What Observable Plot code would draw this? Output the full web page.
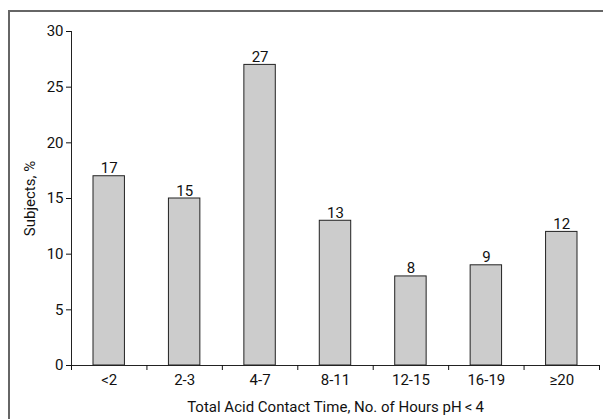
<!DOCTYPE html>
<html><head>
<meta charset="utf-8">
<script src="https://cdn.jsdelivr.net/npm/d3@7"></script>
<script src="https://cdn.jsdelivr.net/npm/@observablehq/plot@0.6"></script>
<style>
body{margin:0;background:#fff;}
#wrap{position:relative;width:603px;height:419px;overflow:hidden;}
#frame{position:absolute;left:8px;top:10px;width:700px;height:500px;border-left:2px solid #666;border-top:2px solid #666;}
#chart{position:absolute;left:0;top:0;}
#chart text{fill:#111;}
</style></head><body><div id="wrap"><div id="frame"></div><div id="chart"></div></div>
<script>
const categories = ["<2","2-3","4-7","8-11","12-15","16-19","≥20"];
const values = [17,15,27,13,8,9,12];
const yTicks = [0,5,10,15,20,25,30];
const xLabel = "Total Acid Contact Time, No. of Hours pH\u2009<\u20094";
const yLabel = "Subjects, %";
const data = categories.map((c,i)=>({c, i, v: values[i]}));
const plot = Plot.plot({
 width:603, height:419, marginLeft:71, marginRight:4, marginTop:31, marginBottom:54,
 style:{fontFamily:"Roboto, sans-serif", fontSize:"15px", color:"#111", background:"transparent"},
 x:{domain:[0,7]}, y:{domain:[0,30]},
 marks:[
  Plot.rectY(data,{x1:"i", x2: d=>d.i+1, y:"v", insetLeft:22, insetRight:22, fill:"#cccccc", stroke:"#222", strokeWidth:1}),
  Plot.text(data,{x:d=>d.i+0.5, y:"v", text:d=>String(d.v), lineAnchor:"bottom", dy:-3, fill:"#111"}),
  Plot.axisY({ticks:yTicks, tickSize:5, tickPadding:3, label:yLabel, labelAnchor:"center", labelOffset:47, labelArrow:"none"}),
  Plot.ruleX([0], {stroke:"#222"}),
  Plot.ruleY([0], {stroke:"#222"}),
  Plot.axisX({ticks:d3.range(0,8), tickSize:5, tickFormat:()=>"", label:null}),
  Plot.axisX({ticks:categories.map((c,i)=>i+0.5), tickSize:0, tickPadding:9, tickFormat:t=>categories[Math.floor(t)], label:xLabel, labelAnchor:"center", labelOffset:46, labelArrow:"none"})
 ]
});
document.getElementById("chart").appendChild(plot);
</script></body></html>
